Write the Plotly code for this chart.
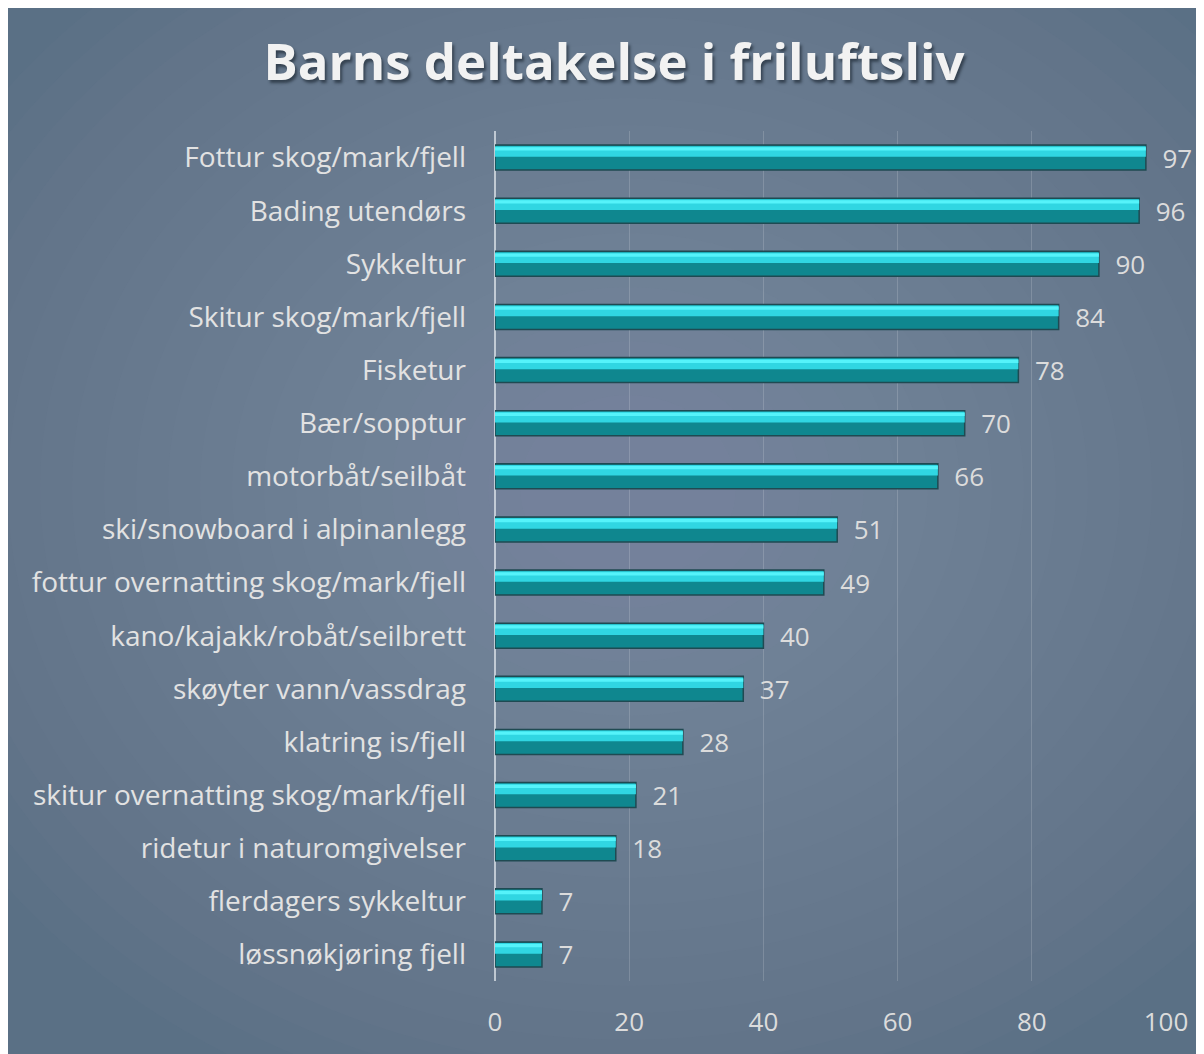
import plotly.graph_objects as go

categories = [
    "Fottur skog/mark/fjell",
    "Bading utendørs",
    "Sykkeltur",
    "Skitur skog/mark/fjell",
    "Fisketur",
    "Bær/sopptur",
    "motorbåt/seilbåt",
    "ski/snowboard i alpinanlegg",
    "fottur overnatting skog/mark/fjell",
    "kano/kajakk/robåt/seilbrett",
    "skøyter vann/vassdrag",
    "klatring is/fjell",
    "skitur overnatting skog/mark/fjell",
    "ridetur i naturomgivelser",
    "flerdagers sykkeltur",
    "løssnøkjøring fjell",
]
values = [97, 96, 90, 84, 78, 70, 66, 51, 49, 40, 37, 28, 21, 18, 7, 7]
x_ticks = [0, 20, 40, 60, 80, 100]

W, H = 1196, 1046
M_L, M_R, M_T, M_B = 487, 38, 123, 73
PW, PH = W - M_L - M_R, H - M_T - M_B


def px(x):
    # figure pixel -> paper x
    return (x - M_L) / PW


def py(y):
    # figure pixel -> paper y (measured from top)
    return 1 - (y - M_T) / PH


fig = go.Figure()

# base bar (dark teal body with dark outline)
fig.add_trace(go.Bar(
    y=categories, x=values, orientation="h",
    width=0.47, offset=-0.235,
    marker=dict(color="#0f878f", line=dict(color="#1f4a52", width=1.5)),
    texttemplate="  %{x}", textposition="outside", constraintext="none",
    textfont=dict(family="Open Sans", size=26, color="#dcdcdc"),
    cliponaxis=False, hoverinfo="x+y", showlegend=False,
))
# upper highlight of the bevel
fig.add_trace(go.Bar(
    y=categories, x=values, orientation="h",
    width=0.2, offset=-0.215,
    marker=dict(color="#30d6e2", line=dict(width=0)),
    hoverinfo="skip", showlegend=False,
))
# thin bright strip along the top edge
fig.add_trace(go.Bar(
    y=categories, x=values, orientation="h",
    width=0.06, offset=-0.195,
    marker=dict(color="#55f3fa", line=dict(width=0)),
    hoverinfo="skip", showlegend=False,
))

# soft radial lightening of the background
shapes = []
cx, cy = 620, 480
n = 22
for i in range(n):
    rx = 780 - i * 32
    ry = 660 - i * 27
    shapes.append(dict(
        type="circle", xref="paper", yref="paper", layer="below",
        x0=px(cx - rx), x1=px(cx + rx), y0=py(cy + ry), y1=py(cy - ry),
        fillcolor="rgba(148,170,192,0.032)", line=dict(width=0),
    ))

fig.update_layout(
    width=W, height=H,
    margin=dict(l=M_L, r=M_R, t=M_T, b=M_B),
    paper_bgcolor="#5a7085",
    plot_bgcolor="rgba(0,0,0,0)",
    barmode="overlay",
    shapes=shapes,
    title=dict(
        text="Barns deltakelse i friluftsliv",
        x=606 / W, xref="container", xanchor="center",
        y=1 - 54 / H, yref="container", yanchor="middle",
        font=dict(family="Open Sans", size=51, color="#f2f2f2", weight="bold",
                  shadow="2px 3px 3px rgba(20,30,40,0.6)"),
    ),
    font=dict(family="Open Sans", color="#dcdcdc"),
    xaxis=dict(
        range=[0, 100], tickvals=x_ticks, ticktext=[str(t) for t in x_ticks],
        showgrid=True, gridcolor="rgba(255,255,255,0.16)", gridwidth=1,
        zeroline=True, zerolinecolor="rgba(230,235,240,0.7)", zerolinewidth=2,
        showline=False, ticks="",
        tickfont=dict(family="Open Sans", size=26, color="#dcdcdc"),
        ticklabelstandoff=23,
    ),
    yaxis=dict(
        autorange="reversed", showgrid=False, showline=False, ticks="",
        tickfont=dict(family="Open Sans", size=28, color="#e2e2e2"),
        ticklabelstandoff=28,
    ),
)

fig.write_html("out.html")
